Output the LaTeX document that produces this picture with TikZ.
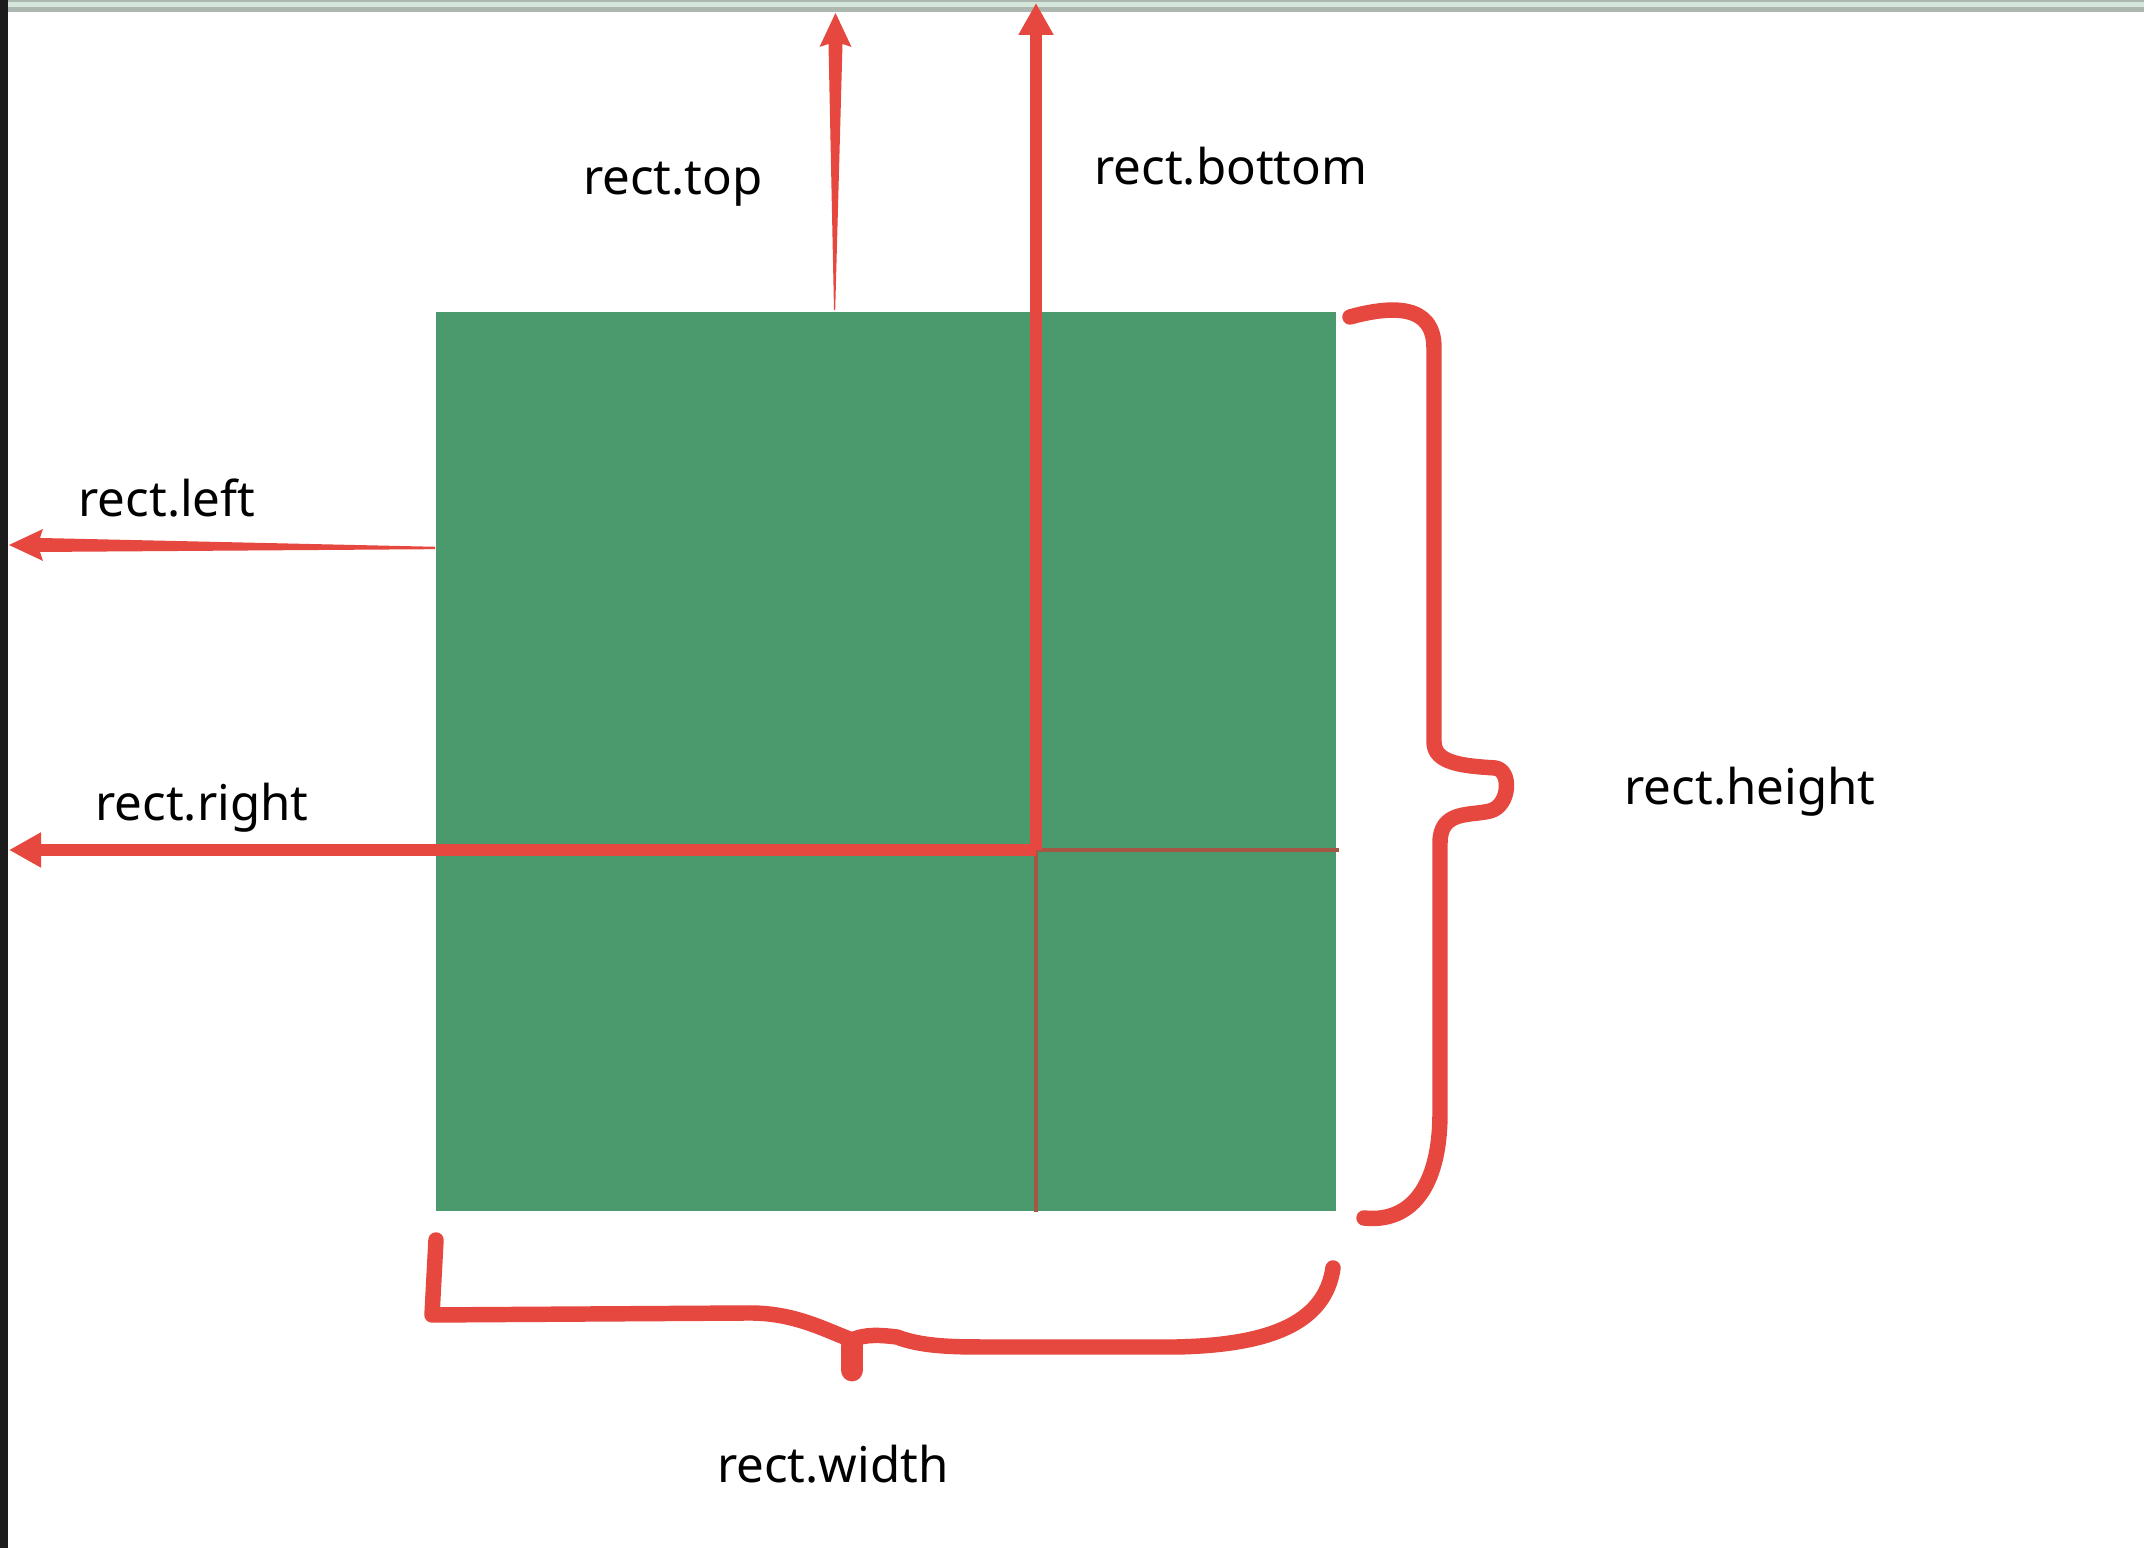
\documentclass[tikz,border=0pt]{standalone}
\usepackage{fontspec}
\setmainfont{Noto Sans}
\usetikzlibrary{arrows.meta,calc}

\begin{document}
\begin{tikzpicture}[>={Triangle[width=0.33cm,length=0.32cm]}]

\definecolor{rectgreen}{RGB}{74,154,110}
\definecolor{markred}{RGB}{230,72,64}
\definecolor{edgedark}{RGB}{28,28,28}
\definecolor{bargray}{RGB}{172,184,175}
\definecolor{barlight}{RGB}{212,230,218}

% Canvas
\useasboundingbox (0,0) rectangle (21.44,15.48);
\fill[white] (0,0) rectangle (21.44,15.48);
\fill[bargray] (0,15.36) rectangle (21.44,15.48);
\fill[barlight] (0,15.41) rectangle (21.44,15.46);
\fill[edgedark] (0,0) rectangle (0.08,15.48);

\tikzset{
    label text/.style={
        text=black, font=\fontsize{14}{17}\selectfont,
        anchor=base, inner sep=0pt
    },
    marker/.style={draw=markred, line width=3.6pt},
    thin marker/.style={draw=markred!70!rectgreen!90!black, line width=1.3pt},
    brace stroke/.style={
        draw=markred, line width=4.4pt,
        line cap=round, line join=round
    }
}

% The rectangle
\node[fill=rectgreen, minimum width=9cm, minimum height=8.99cm, inner sep=0pt] (rect) at (8.86,7.865) {};

% Reference points
\coordinate (cross) at (10.36,6.98);
\coordinate (toptip) at (8.355,15.35);
\coordinate (topfoot) at (8.34,12.38);
\coordinate (bottomtip) at (10.36,15.45);
\coordinate (leftfoot) at (4.35,10.00);
\coordinate (lefttip) at (0.09,10.03);
\coordinate (righttip) at (0.09,6.98);

% --- EDGE ARROWS ---

% Thin parts inside the rectangle
\draw[thin marker] (cross) -- (cross |- rect.south);
\draw[thin marker] (cross) -- ($(cross -| rect.east)+(0.02,0)$);

% rect.bottom and rect.right
\draw[marker,->] (cross) -- (bottomtip);
\draw[marker,->] (cross) -- (righttip);

% rect.top (tapered)
\fill[markred] (topfoot) -- ($(toptip)+(-0.07,-0.31)$) -- ($(toptip)+(-0.16,-0.34)$) -- (toptip)
    -- ($(toptip)+(0.16,-0.34)$) -- ($(toptip)+(0.07,-0.31)$) -- ($(topfoot)+(0.012,0)$) -- cycle;

% rect.left (tapered)
\fill[markred] ($(leftfoot)+(0,0.012)$) -- ($(lefttip)+(0.31,0.07)$) -- ($(lefttip)+(0.34,0.16)$) -- (lefttip)
    -- ($(lefttip)+(0.34,-0.16)$) -- ($(lefttip)+(0.31,-0.07)$) -- ($(leftfoot)+(0,-0.012)$) -- cycle;

% --- BRACES ---

% Height
\draw[brace stroke] (13.50,12.31) .. controls (13.9,12.42) and (14.34,12.45) .. (14.34,12.00)
    -- (14.34,8.06) .. controls (14.34,7.84) and (14.65,7.82) .. (14.95,7.80)
    .. controls (15.12,7.78) and (15.10,7.42) .. (14.90,7.37)
    .. controls (14.70,7.32) and (14.40,7.38) .. (14.40,7.05)
    -- (14.40,4.35) .. controls (14.40,3.60) and (14.10,3.25) .. (13.64,3.30);

% Width
\draw[brace stroke] (4.36,3.08) -- (4.32,2.33) -- (7.50,2.35) .. controls (7.95,2.35) and (8.25,2.18) .. (8.52,2.08);
\draw[brace stroke] (8.52,2.08) .. controls (8.65,2.14) and (8.80,2.13) .. (8.97,2.11)
    .. controls (9.20,2.02) and (9.50,2.01) .. (9.80,2.01)
    -- (11.77,2.01) .. controls (12.70,2.03) and (13.25,2.25) .. (13.33,2.80);
\draw[brace stroke, line width=6.5pt] (8.52,2.02) -- (8.52,1.78);

% Labels
\node[label text] (toplbl) at (6.73,13.53) {rect.top};
\node[label text] (bottomlbl) at (12.31,13.63) {rect.bottom};
\node[label text] (leftlbl) at (1.67,10.31) {rect.left};
\node[label text] (rightlbl) at (2.02,7.27) {rect.right};
\node[label text] (heightlbl) at (17.50,7.43) {rect.height};
\node[label text] (widthlbl) at (8.33,0.65) {rect.width};

\end{tikzpicture}
\end{document}
